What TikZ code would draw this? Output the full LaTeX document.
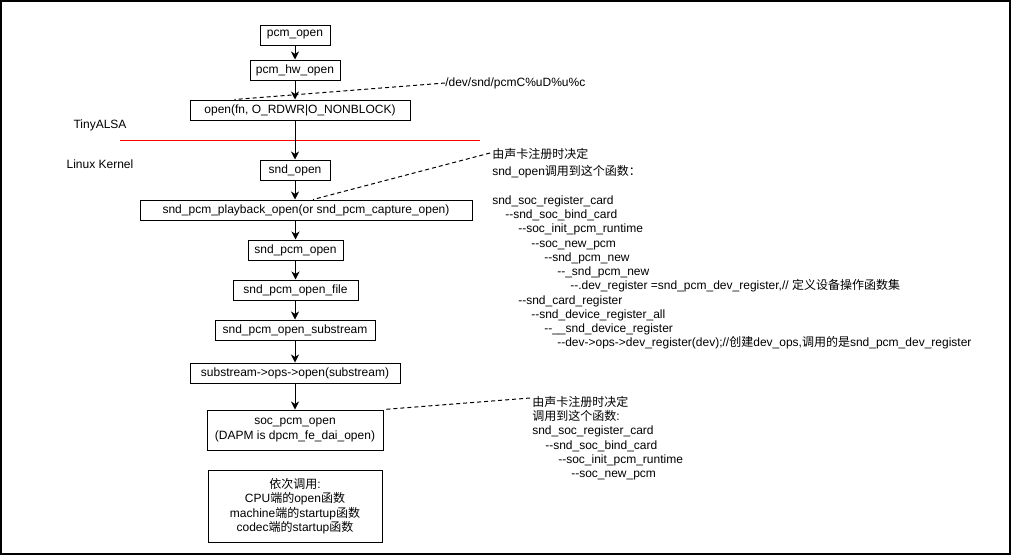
\documentclass[tikz,border=0pt]{standalone}
\usepackage{fontspec}
\setmainfont{Liberation Sans}
\newfontfamily\cjk{Noto Sans CJK SC}
\usetikzlibrary{arrows.meta}
\newcommand\dd{-{}-}
\newcommand\ind[1]{\hspace*{#1}}
\begin{document}
\begin{tikzpicture}[x=0.75pt,y=-0.75pt,
  font=\fontsize{9pt}{10.7pt}\selectfont,
  box/.style={draw=black, line width=0.75pt, inner sep=0pt, minimum height=15pt, align=center},
  arr/.style={-{Stealth[length=6pt,width=6pt,inset=1.8pt]}, line width=0.75pt},
  dsh/.style={dash pattern=on 3pt off 2.25pt, line width=0.75pt},
  lbl/.style={inner sep=0pt, anchor=west},
  note/.style={inner sep=0pt, anchor=north west, align=left}]
\useasboundingbox (0,0) rectangle (1012,557);
\draw[line width=1.5pt] (1,1) rectangle (1009.5,554);

% boxes
\node[box, minimum width=52.5pt] (pcmopen) at (295,35) {pcm\_open};
\node[box, minimum width=67.5pt] (pcmhw) at (295,70) {pcm\_hw\_open};
\node[box, minimum width=165pt] (openfn) at (300,110) {open(fn, O\_RDWR|O\_NONBLOCK)};
\node[box, minimum width=52.5pt] (sndopen) at (295,170) {snd\_open};
\node[box, minimum width=249pt] (playback) at (306,210) {snd\_pcm\_playback\_open(or snd\_pcm\_capture\_open)};
\node[box, minimum width=71.25pt] (sndpcmopen) at (295.5,250) {snd\_pcm\_open};
\node[box, minimum width=93.75pt] (openfile) at (295.5,290) {snd\_pcm\_open\_file};
\node[box, minimum width=120pt] (substream) at (295,330) {snd\_pcm\_open\_substream};
\node[box, minimum width=157.5pt] (ops) at (295,373) {substream->ops->open(substream)};
\node[box, minimum width=132pt, minimum height=30pt, font=\fontsize{9pt}{11.2pt}\selectfont] (soc) at (295,430) {soc\_pcm\_open\\(DAPM is dpcm\_fe\_dai\_open)};
\node[box, minimum width=130.5pt, minimum height=54pt, font=\fontsize{9pt}{10.9pt}\selectfont] (seq) at (295,506)
  {{\cjk 依次调用}:\\CPU{\cjk 端的}open{\cjk 函数}\\machine{\cjk 端的}startup{\cjk 函数}\\codec{\cjk 端的}startup{\cjk 函数}};

% layer labels
\node[inner sep=0pt] (tiny) at (100,125) {TinyALSA};
\node[inner sep=0pt] (kernel) at (100,164) {Linux Kernel};
\draw[red, line width=0.75pt] (120,140) -- (480,140);

% arrows
\draw[arr] (pcmopen.south) -- (pcmhw.north);
\draw[arr] (pcmhw.south) -- (pcmhw.south |- openfn.north);
\draw[arr] (sndopen.north |- openfn.south) -- (sndopen.north);
\draw[arr] (sndopen.south) -- (sndopen.south |- playback.north);
\draw[arr] (sndpcmopen.north |- playback.south) -- (sndpcmopen.north);
\draw[arr] (sndpcmopen.south) -- (sndpcmopen.south |- openfile.north);
\draw[arr] (substream.north |- openfile.south) -- (substream.north);
\draw[arr] (substream.south) -- (substream.south |- ops.north);
\draw[arr] (ops.south) -- (ops.south |- soc.north);

% annotations
\node[lbl] (devlbl) at (445,83) {/dev/snd/pcmC\%uD\%u\%c};
\draw[dsh] (devlbl.west) -- ([xshift=33.75pt]openfn.north west);

\node[note] (ann1) at (492,148.5) {%
{\cjk 由声卡注册时决定}\\[1.9pt]
snd\_open{\cjk 调用到这个函数：}\\
\mbox{}\\
snd\_soc\_register\_card\\
\ind{9.75pt}\dd snd\_soc\_bind\_card\\
\ind{19.5pt}\dd soc\_init\_pcm\_runtime\\
\ind{29.25pt}\dd soc\_new\_pcm\\
\ind{39pt}\dd snd\_pcm\_new\\
\ind{48.75pt}\dd\_snd\_pcm\_new\\
\ind{58.5pt}\dd.dev\_register =snd\_pcm\_dev\_register,// {\cjk 定义设备操作函数集}\\
\ind{19.5pt}\dd snd\_card\_register\\
\ind{29.25pt}\dd snd\_device\_register\_all\\
\ind{39pt}\dd\_\_snd\_device\_register\\
\ind{48.75pt}\dd dev->ops->dev\_register(dev);//{\cjk 创建}dev\_ops,{\cjk 调用的是}snd\_pcm\_dev\_register};
\coordinate (e2) at (490,153);
\draw[dsh] (e2) -- ([xshift=5.25pt]playback.north);

\node[note] (ann2) at (532,396) {%
{\cjk 由声卡注册时决定}\\
{\cjk 调用到这个函数}:\\
snd\_soc\_register\_card\\
\ind{9.75pt}\dd snd\_soc\_bind\_card\\
\ind{19.5pt}\dd soc\_init\_pcm\_runtime\\
\ind{29.25pt}\dd soc\_new\_pcm};
\coordinate (e3) at (530,398);
\draw[dsh] (e3) -- (soc.north east);
\end{tikzpicture}
\end{document}
